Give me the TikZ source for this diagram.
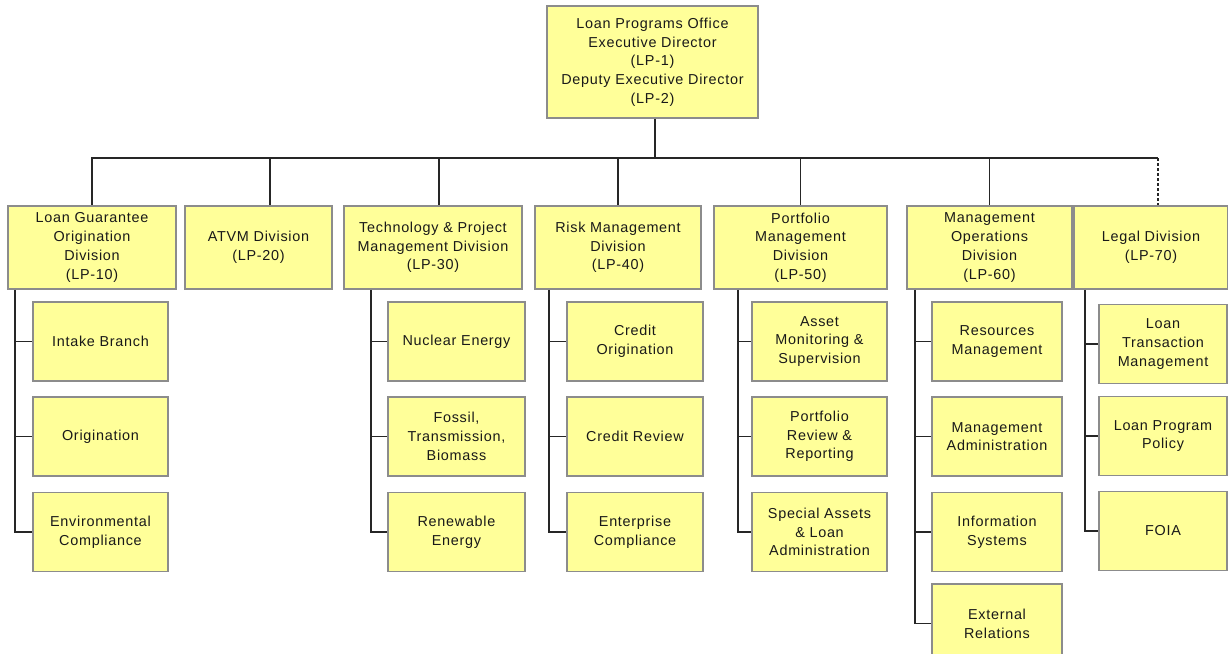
\documentclass[tikz,border=0pt]{standalone}
\usepackage{fontspec}
\setmainfont{Liberation Sans}[LetterSpace=5]
\definecolor{boxfill}{HTML}{FFFF99}
\definecolor{boxline}{HTML}{8C8C8C}
\tikzset{
  unit/.style={draw=boxline, fill=boxfill, line width=1.5pt, align=center,
    inner sep=0pt, text=black!90, font=\fontsize{14.4}{18.7}\selectfont},
  div/.style={unit, minimum height=83pt},
  sub/.style={unit, minimum width=135pt, minimum height=79pt},
  link/.style={line width=1.7pt, draw=black!85}
}
\begin{document}
\begin{tikzpicture}[x=1pt,y=-1pt]
\useasboundingbox (0,0) rectangle (1228,653);

\node[unit, minimum width=211pt, minimum height=112pt] (lp1) at (652.5,62)
  {Loan Programs Office\\Executive Director\\(LP-1)\\Deputy Executive Director\\(LP-2)};

% divisions
\node[div, minimum width=168pt] (lp10) at (92,247.5) {Loan Guarantee\\Origination\\Division\\(LP-10)};
\node[div, minimum width=147pt] (lp20) at (258.5,247.5) {ATVM Division\\(LP-20)};
\node[div, minimum width=178pt] (lp30) at (433,247.5) {Technology \& Project\\Management Division\\(LP-30)};
\node[div, minimum width=166pt] (lp40) at (618,247.5) {Risk Management\\Division\\(LP-40)};
\node[div, minimum width=173pt] (lp50) at (800.5,247.5) {Portfolio\\Management\\Division\\(LP-50)};
\node[div, minimum width=165pt] (lp60) at (989.5,247.5) {Management\\Operations\\Division\\(LP-60)};
\node[div, minimum width=154pt] (lp70) at (1151,247.5) {Legal Division\\(LP-70)};

% branches
\node[sub] (c11) at (100.5,341.5) {Intake Branch};
\node[sub] (c12) at (100.5,436.5) {Origination};
\node[sub] (c13) at (100.5,532) {Environmental\\Compliance};

\node[sub, minimum width=137pt] (c31) at (456.5,341.5) {Nuclear Energy};
\node[sub, minimum width=137pt] (c32) at (456.5,436.5) {Fossil,\\Transmission,\\Biomass};
\node[sub, minimum width=137pt] (c33) at (456.5,532) {Renewable\\Energy};

\node[sub, minimum width=136pt] (c41) at (635,341.5) {Credit\\Origination};
\node[sub, minimum width=136pt] (c42) at (635,436.5) {Credit Review};
\node[sub, minimum width=136pt] (c43) at (635,532) {Enterprise\\Compliance};

\node[sub] (c51) at (819.5,341.5) {Asset\\Monitoring \&\\Supervision};
\node[sub] (c52) at (819.5,436.5) {Portfolio\\Review \&\\Reporting};
\node[sub] (c53) at (819.5,532) {Special Assets\\\& Loan\\Administration};

\node[sub, minimum width=130pt] (c61) at (997,341.5) {Resources\\Management};
\node[sub, minimum width=130pt] (c62) at (997,436.5) {Management\\Administration};
\node[sub, minimum width=130pt] (c63) at (997,532) {Information\\Systems};
\node[sub, minimum width=130pt] (c64) at (997,623.5) {External\\Relations};

\node[sub, minimum width=128pt] (c71) at (1163,344) {Loan\\Transaction\\Management};
\node[sub, minimum width=128pt] (c72) at (1163,436) {Loan Program\\Policy};
\node[sub, minimum width=128pt] (c73) at (1163,531) {FOIA};

% top connectors
\coordinate (bus) at (655,158);
\coordinate (atvm) at ([xshift=11.5pt]lp20.north);
\coordinate (tech) at ([xshift=6pt]lp30.north);
\coordinate (legal) at ([xshift=7pt]lp70.north);
\draw[link] (lp1.south -| bus) -- (bus);
\draw[link] (bus) -| (lp10.north);
\draw[link] (bus) -| (atvm);
\draw[link] (bus) -| (tech);
\draw[link] (bus) -| (lp40.north);
\draw[link] (bus) -| (lp50.north);
\draw[link] (bus) -| (lp60.north);
\draw[link] (bus) -- (bus -| legal);
\draw[link, densely dashed] (bus -| legal) -- (legal);

% trunks
\coordinate (t1) at ([xshift=-17pt]c11.west);
\coordinate (t3) at ([xshift=-16pt]c31.west);
\coordinate (t4) at ([xshift=-17pt]c41.west);
\coordinate (t5) at ([xshift=-13pt]c51.west);
\coordinate (t6) at ([xshift=-16pt]c61.west);
\coordinate (t7) at ([xshift=-13pt]c71.west);

\draw[link] (t1 |- lp10.south) |- (c13.west);
\draw[link] (t1) -- (c11.west);
\draw[link] (t1 |- c12.west) -- (c12.west);

\draw[link] (t3 |- lp30.south) |- (c33.west);
\draw[link] (t3) -- (c31.west);
\draw[link] (t3 |- c32.west) -- (c32.west);

\draw[link] (t4 |- lp40.south) |- (c43.west);
\draw[link] (t4) -- (c41.west);
\draw[link] (t4 |- c42.west) -- (c42.west);

\draw[link] (t5 |- lp50.south) |- (c53.west);
\draw[link] (t5) -- (c51.west);
\draw[link] (t5 |- c52.west) -- (c52.west);

\draw[link] (t6 |- lp60.south) |- (c64.west);
\draw[link] (t6) -- (c61.west);
\draw[link] (t6 |- c62.west) -- (c62.west);
\draw[link] (t6 |- c63.west) -- (c63.west);

\draw[link] (t7 |- lp70.south) |- (c73.west);
\draw[link] (t7) -- (c71.west);
\draw[link] (t7 |- c72.west) -- (c72.west);
\end{tikzpicture}
\end{document}
